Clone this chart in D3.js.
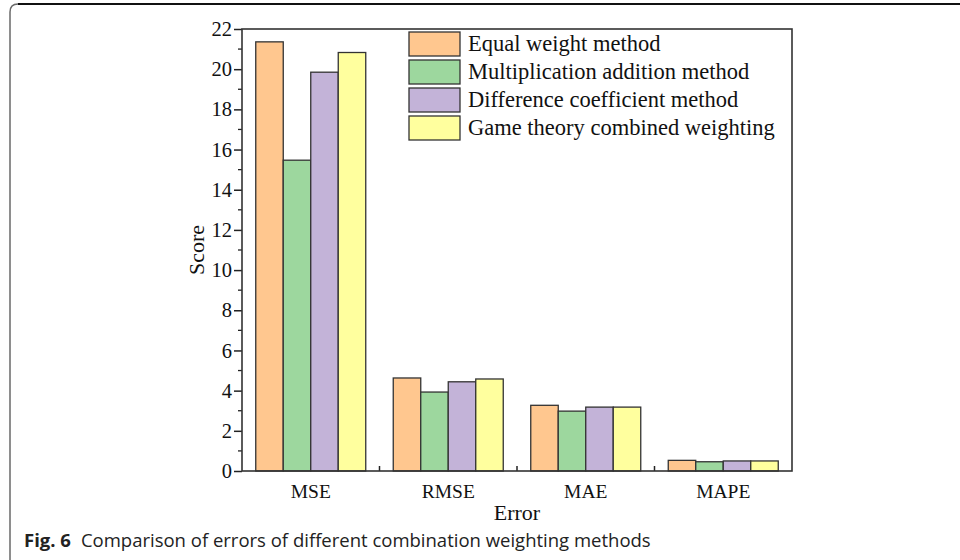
<!DOCTYPE html>
<html>
<head>
<meta charset="utf-8">
<script src="https://cdn.jsdelivr.net/npm/d3@7/dist/d3.min.js"></script>
<style>
  body { margin: 0; background: #fff; }
</style>
</head>
<body>
<script>
var categories = ["MSE", "RMSE", "MAE", "MAPE"];

var seriesNames = [
    "Equal weight method",
    "Multiplication addition method",
    "Difference coefficient method",
    "Game theory combined weighting"
];

// one array per method, same order as categories
var equalWeight = [21.36, 4.63, 3.27, 0.53];
var multAddition = [15.47, 3.93, 2.98, 0.46];
var diffCoeff = [19.85, 4.44, 3.18, 0.50];
var gameTheory = [20.83, 4.58, 3.18, 0.50];

var yTicks = [0, 2, 4, 6, 8, 10, 12, 14, 16, 18, 20, 22];

var seriesValues = [equalWeight, multAddition, diffCoeff, gameTheory];
var colors = ["#ffc78f", "#9dd79e", "#c3b3d8", "#ffff9e"];

var W = 960, H = 560;
var plot = {left: 242, right: 792, top: 29, bottom: 471};
var serif = "'Liberation Serif', 'Times New Roman', serif";

var svg = d3.select("body")
    .append("svg")
    .attr("width", W)
    .attr("height", H);

// card border (top + rounded left side)
svg.append("path")
    .attr("d", "M10,563 L10,12 Q10,4 18,4")
    .attr("fill", "none")
    .attr("stroke", "#6a6a6a")
    .attr("stroke-width", 1.5);
svg.append("line")
    .attr("x1", 18).attr("x2", W)
    .attr("y1", 4).attr("y2", 4)
    .attr("stroke", "#111")
    .attr("stroke-width", 1.8);

var x0 = d3.scaleBand()
    .domain(categories)
    .range([plot.left, plot.right])
    .paddingInner(0.2)
    .paddingOuter(0.1);

var x1 = d3.scaleBand()
    .domain(d3.range(seriesNames.length))
    .range([0, x0.bandwidth()]);

var y = d3.scaleLinear()
    .domain([0, 22])
    .range([plot.bottom, plot.top]);

// bars
var groups = svg.append("g")
    .selectAll("g")
    .data(categories)
    .join("g")
    .attr("transform", function (d) { return "translate(" + x0(d) + ",0)"; });

groups.selectAll("rect")
    .data(function (d, ci) {
        return seriesValues.map(function (vals, si) { return {si: si, v: vals[ci]}; });
    })
    .join("rect")
    .attr("x", function (d) { return x1(d.si); })
    .attr("y", function (d) { return y(d.v); })
    .attr("width", x1.bandwidth())
    .attr("height", function (d) { return y(0) - y(d.v); })
    .attr("fill", function (d) { return colors[d.si]; })
    .attr("stroke", "#333")
    .attr("stroke-width", 1.3);

// y axis, major ticks outward
var yAxis = d3.axisLeft(y)
    .tickValues(yTicks)
    .tickSize(8)
    .tickPadding(2)
    .tickFormat(d3.format("d"));

var gy = svg.append("g")
    .attr("transform", "translate(" + plot.left + ",0)")
    .call(yAxis);
gy.select(".domain").remove();
gy.selectAll("line").attr("stroke", "#222").attr("stroke-width", 1.5);
gy.selectAll("text")
    .attr("font-family", serif)
    .attr("font-size", "20.5px")
    .attr("fill", "#111");

// minor y ticks
svg.append("g")
    .selectAll("line")
    .data(d3.range(1, 22, 2))
    .join("line")
    .attr("x1", plot.left - 4)
    .attr("x2", plot.left)
    .attr("y1", function (d) { return y(d); })
    .attr("y2", function (d) { return y(d); })
    .attr("stroke", "#222")
    .attr("stroke-width", 1.3);

// x axis labels
var xAxis = d3.axisBottom(x0)
    .tickSize(0)
    .tickPadding(13);
var gx = svg.append("g")
    .attr("transform", "translate(0," + plot.bottom + ")")
    .call(xAxis);
gx.select(".domain").remove();
gx.selectAll("text")
    .attr("font-family", serif)
    .attr("font-size", "19.5px")
    .attr("fill", "#111");

// small inward ticks between categories
svg.append("g")
    .selectAll("line")
    .data(categories.slice(1))
    .join("line")
    .attr("x1", function (d) { return x0(d) - x0.step() * x0.paddingInner() / 2; })
    .attr("x2", function (d) { return x0(d) - x0.step() * x0.paddingInner() / 2; })
    .attr("y1", plot.bottom)
    .attr("y2", plot.bottom - 5)
    .attr("stroke", "#222")
    .attr("stroke-width", 1.5);

// plot frame
svg.append("rect")
    .attr("x", plot.left)
    .attr("y", plot.top)
    .attr("width", plot.right - plot.left)
    .attr("height", plot.bottom - plot.top)
    .attr("fill", "none")
    .attr("stroke", "#333")
    .attr("stroke-width", 1.6);

// axis titles
svg.append("text")
    .text("Error")
    .attr("x", (plot.left + plot.right) / 2)
    .attr("y", 520)
    .attr("text-anchor", "middle")
    .attr("font-family", serif)
    .attr("font-size", "22px")
    .attr("fill", "#111");

svg.append("text")
    .text("Score")
    .attr("transform", "translate(204," + ((plot.top + plot.bottom) / 2) + ") rotate(-90)")
    .attr("text-anchor", "middle")
    .attr("font-family", serif)
    .attr("font-size", "22px")
    .attr("fill", "#111");

// legend
var legend = svg.append("g")
    .attr("transform", "translate(409,32)");

var items = legend.selectAll("g")
    .data(seriesNames)
    .join("g")
    .attr("transform", function (d, i) { return "translate(0," + (i * 28) + ")"; });

items.append("rect")
    .attr("width", 51)
    .attr("height", 24)
    .attr("fill", function (d, i) { return colors[i]; })
    .attr("stroke", "#333")
    .attr("stroke-width", 1.3);

items.append("text")
    .text(function (d) { return d; })
    .attr("x", 59)
    .attr("y", 19)
    .attr("font-family", serif)
    .attr("font-size", "22.5px")
    .attr("fill", "#111");

// figure caption
var cap = svg.append("text")
    .attr("x", 24)
    .attr("y", 547)
    .attr("font-family", "'Open Sans', 'Noto Sans', sans-serif")
    .attr("font-size", "18.5px")
    .attr("fill", "#222");
cap.append("tspan")
    .attr("font-weight", "bold")
    .text("Fig. 6");
cap.append("tspan")
    .attr("dx", 10)
    .text("Comparison of errors of different combination weighting methods");
</script>
</body>
</html>
